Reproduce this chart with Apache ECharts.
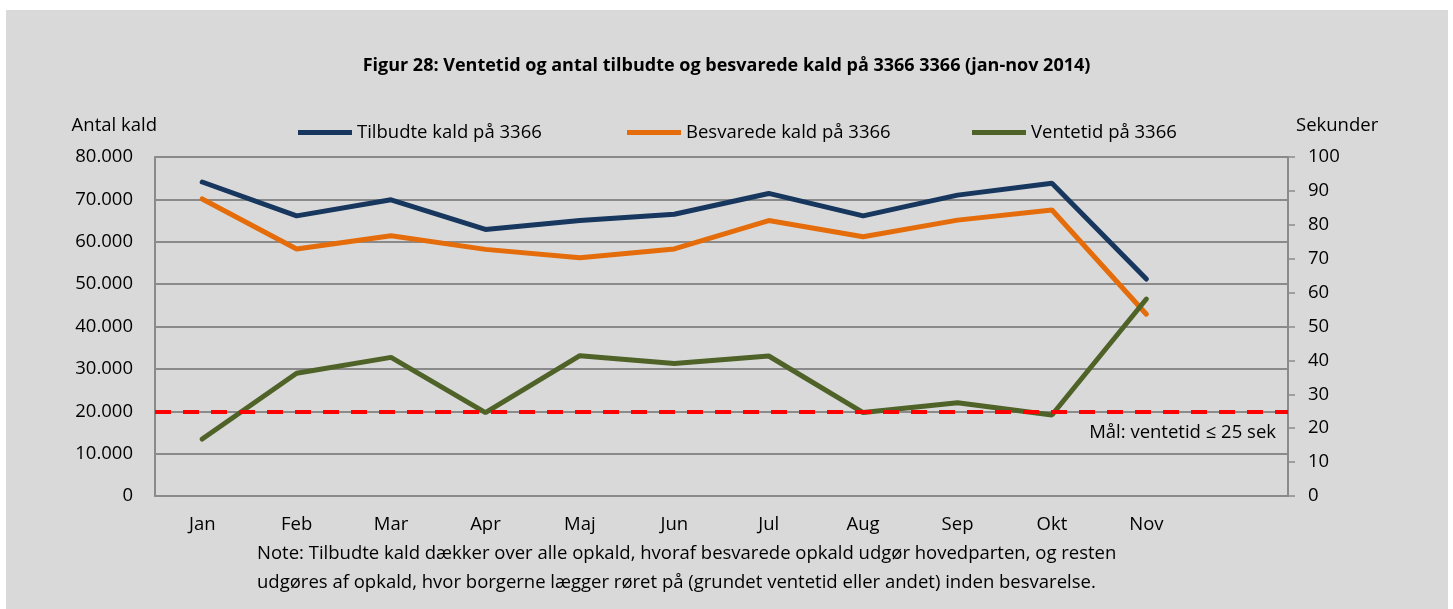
<!DOCTYPE html>
<html>
<head>
<meta charset="utf-8">
<script src="https://cdn.jsdelivr.net/npm/echarts@6/dist/echarts.min.js"></script>
<style>
  html, body { margin: 0; padding: 0; background: #fff; }
  #chart { width: 1453px; height: 609px; }
</style>
</head>
<body>
<div id="chart"></div>
<script>
const months = ['Jan', 'Feb', 'Mar', 'Apr', 'Maj', 'Jun', 'Jul', 'Aug', 'Sep', 'Okt', 'Nov', '']
const tilbudte = [74100, 66100, 69900, 62900, 65000, 66500, 71400, 66100, 71000, 73800, 51200]
const besvarede = [70100, 58300, 61400, 58200, 56200, 58300, 65000, 61200, 65100, 67500, 42900]
const ventetid = [16.8, 36.2, 40.9, 24.6, 41.4, 39.1, 41.3, 24.6, 27.5, 23.9, 58.1]
const maalSek = 25

const FONT = 'Open Sans'
const FS = 18.5
const gridColor = '#8a8a8a'

function fmtThousands(v) {
  return String(v).replace(/\B(?=(\d{3})+(?!\d))/g, '.')
}

const chart = echarts.init(document.getElementById('chart'))

function legendAt(name, left) {
  return {
    data: [name],
    left: left,
    top: 123,
    padding: 0,
    icon: 'rect',
    itemWidth: 54,
    itemHeight: 5,
    textStyle: { fontFamily: FONT, fontSize: FS, color: '#000' }
  }
}

chart.setOption({
  backgroundColor: '#fff',
  animation: false,
  textStyle: { fontFamily: FONT },
  graphic: [
    { type: 'rect', shape: { x: 6, y: 10, width: 1442, height: 600 }, style: { fill: '#d9d9d9' }, z: -10 },
    {
      type: 'text', left: 257, top: 539,
      style: {
        text: 'Note: Tilbudte kald dækker over alle opkald, hvoraf besvarede opkald udgør hovedparten, og resten\nudgøres af opkald, hvor borgerne lægger røret på (grundet ventetid eller andet) inden besvarelse.',
        font: FS + 'px "' + FONT + '"', fill: '#000', lineHeight: 29
      }
    }
  ],
  title: {
    text: 'Figur 28: Ventetid og antal tilbudte og besvarede kald på 3366 3366 (jan-nov 2014)',
    left: 'center',
    top: 52,
    textStyle: { fontFamily: FONT, fontSize: 18, fontWeight: 'bold', color: '#000' }
  },
  legend: [
    legendAt('Tilbudte kald på 3366', 298),
    legendAt('Besvarede kald på 3366', 627),
    legendAt('Ventetid på 3366', 972)
  ],
  grid: { left: 155, right: 165, top: 157, bottom: 113 },
  xAxis: {
    type: 'category',
    data: months,
    boundaryGap: true,
    axisLine: { lineStyle: { color: gridColor, width: 2 } },
    axisTick: { show: false },
    axisLabel: { fontFamily: FONT, fontSize: FS, color: '#000', margin: 19 }
  },
  yAxis: [
    {
      type: 'value',
      min: 0, max: 80000, interval: 10000,
      name: 'Antal kald',
      nameGap: 22,
      nameTextStyle: { fontFamily: FONT, fontSize: FS, color: '#000', align: 'right', padding: [0, -2, 0, 0] },
      axisLine: { show: true, lineStyle: { color: gridColor, width: 2 } },
      axisTick: { show: false },
      splitLine: { lineStyle: { color: gridColor, width: 2 } },
      axisLabel: { fontFamily: FONT, fontSize: FS, color: '#000', margin: 22, formatter: fmtThousands }
    },
    {
      type: 'value',
      min: 0, max: 100, interval: 10,
      name: 'Sekunder',
      nameGap: 22,
      nameTextStyle: { fontFamily: FONT, fontSize: FS, color: '#000', align: 'left', padding: [0, 0, 0, 8] },
      position: 'right',
      axisLine: { show: true, lineStyle: { color: gridColor, width: 2 } },
      axisTick: { show: true, inside: false, length: 7, lineStyle: { color: gridColor, width: 1.5 } },
      splitLine: { show: false },
      axisLabel: { fontFamily: FONT, fontSize: FS, color: '#000', margin: 20 }
    }
  ],
  series: [
    {
      name: 'Tilbudte kald på 3366',
      type: 'line',
      data: tilbudte,
      symbol: 'none',
      lineStyle: { color: '#17375e', width: 5, cap: 'round' },
      itemStyle: { color: '#17375e' },
      yAxisIndex: 0
    },
    {
      name: 'Besvarede kald på 3366',
      type: 'line',
      data: besvarede,
      symbol: 'none',
      lineStyle: { color: '#e46c0a', width: 5, cap: 'round' },
      itemStyle: { color: '#e46c0a' },
      yAxisIndex: 0
    },
    {
      name: 'Ventetid på 3366',
      type: 'line',
      data: ventetid,
      symbol: 'none',
      lineStyle: { color: '#4f6228', width: 5, cap: 'round' },
      itemStyle: { color: '#4f6228' },
      yAxisIndex: 1,
      z: 3,
      markLine: {
        silent: true,
        symbol: 'none',
        lineStyle: { color: '#ff0000', width: 4, type: [16, 12] },
        label: {
          show: true,
          position: 'insideEndBottom',
          formatter: 'Mål: ventetid ≤ 25 sek',
          fontFamily: FONT, fontSize: FS, color: '#000',
          distance: [12, 12]
        },
        data: [{ yAxis: maalSek }]
      }
    }
  ]
})
</script>
</body>
</html>
